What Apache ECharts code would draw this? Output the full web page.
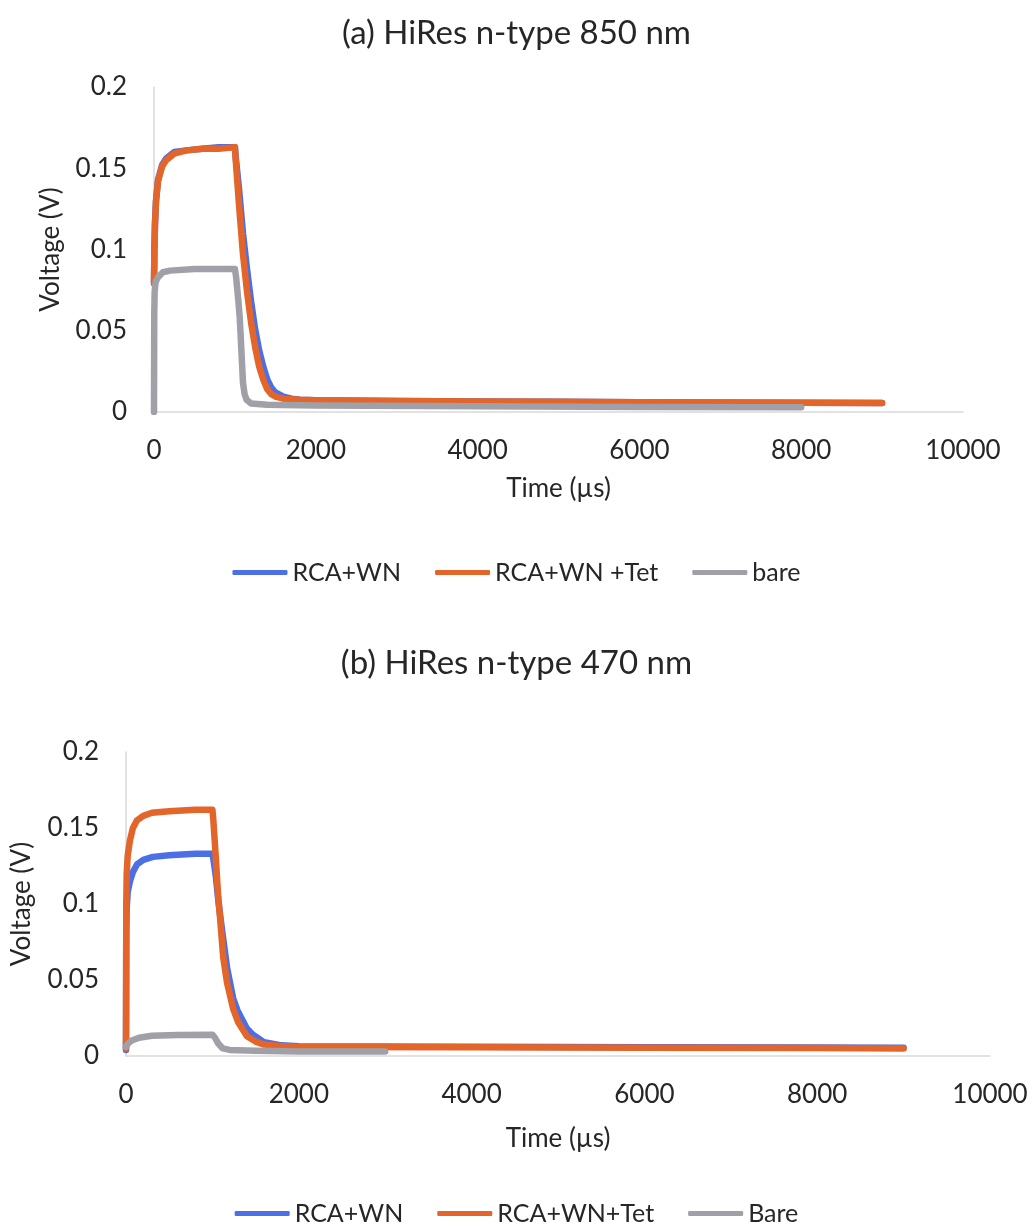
<!DOCTYPE html>
<html>
<head>
<meta charset="utf-8">
<title>HiRes n-type transient response</title>
<script src="https://cdn.jsdelivr.net/npm/echarts@6/dist/echarts.min.js"></script>
<style>
  html, body { margin: 0; padding: 0; background: #fff; }
  #chart { width: 1033px; height: 1228px; }
</style>
</head>
<body>
<div id="chart"></div>
<script>
// Panel titles and legend names
const titleA = '(a) HiRes n-type 850 nm';
const titleB = '(b) HiRes n-type 470 nm';
const namesA = ['RCA+WN', 'RCA+WN +Tet', 'bare'];
const namesB = ['RCA+WN', 'RCA+WN+Tet', 'Bare'];

// Axis ticks
const xTicks = [0, 2000, 4000, 6000, 8000, 10000];
const yTicks = [0, 0.05, 0.1, 0.15, 0.2];

// (a) 850 nm: [time µs, voltage V]
const aRcaWn = [
  [0, 0.080], [5, 0.100], [12, 0.116], [25, 0.130], [50, 0.143], [100, 0.152],
  [150, 0.156], [250, 0.160], [400, 0.161], [600, 0.162], [800, 0.163], [1000, 0.163],
  [1010, 0.157], [1050, 0.138], [1100, 0.110], [1150, 0.088], [1200, 0.068],
  [1250, 0.051], [1300, 0.038], [1350, 0.028], [1400, 0.020], [1450, 0.015],
  [1500, 0.012], [1600, 0.0095], [1700, 0.0082], [1800, 0.0076], [2000, 0.0072],
  [3000, 0.0068], [4000, 0.0065], [5000, 0.0063], [6000, 0.0060], [7000, 0.0059],
  [8000, 0.0057], [9000, 0.0056]
];
const aRcaWnTet = [
  [0, 0.079], [5, 0.100], [12, 0.115], [25, 0.130], [50, 0.142], [100, 0.151],
  [150, 0.155], [250, 0.159], [400, 0.161], [600, 0.162], [800, 0.162], [1000, 0.163],
  [1010, 0.155], [1050, 0.128], [1100, 0.097], [1150, 0.074], [1200, 0.055],
  [1250, 0.040], [1300, 0.028], [1350, 0.020], [1400, 0.014], [1450, 0.011],
  [1500, 0.0095], [1600, 0.0082], [1800, 0.0075], [2000, 0.0072], [3000, 0.0068],
  [4000, 0.0065], [5000, 0.0063], [6000, 0.0060], [7000, 0.0059], [8000, 0.0057],
  [9000, 0.0056]
];
const aBare = [
  [0, 0.000], [3, 0.060], [8, 0.074], [20, 0.080], [50, 0.083], [110, 0.086],
  [200, 0.087], [500, 0.088], [1000, 0.088], [1015, 0.083], [1040, 0.070],
  [1060, 0.058], [1080, 0.038], [1100, 0.018], [1120, 0.011], [1145, 0.0075],
  [1200, 0.0052], [1400, 0.0045], [2000, 0.0040], [4000, 0.0035], [6000, 0.0031],
  [8000, 0.0030]
];

// (b) 470 nm: [time µs, voltage V]
const bRcaWn = [
  [0, 0.004], [3, 0.080], [8, 0.097], [20, 0.108], [46, 0.115], [80, 0.121],
  [127, 0.126], [200, 0.129], [312, 0.131], [500, 0.132], [800, 0.133], [1000, 0.133],
  [1010, 0.130], [1040, 0.118], [1067, 0.103], [1100, 0.088], [1170, 0.058],
  [1240, 0.038], [1290, 0.030], [1400, 0.018], [1470, 0.014], [1600, 0.0090],
  [1800, 0.0070], [2000, 0.0064], [4000, 0.0061], [6000, 0.0058], [8000, 0.0056],
  [9000, 0.0055]
];
const bRcaWnTet = [
  [0, 0.005], [3, 0.100], [8, 0.120], [20, 0.132], [46, 0.142], [80, 0.150],
  [127, 0.155], [200, 0.158], [300, 0.160], [500, 0.161], [800, 0.162], [1000, 0.162],
  [1010, 0.156], [1040, 0.130], [1067, 0.105], [1090, 0.090], [1125, 0.065],
  [1170, 0.048], [1240, 0.031], [1300, 0.022], [1400, 0.013], [1500, 0.0095],
  [1600, 0.0075], [1800, 0.0065], [2000, 0.0060], [4000, 0.0058], [6000, 0.0055],
  [8000, 0.0052], [9000, 0.0050]
];
const bBare = [
  [0, 0.006], [20, 0.008], [60, 0.010], [150, 0.012], [300, 0.0133], [600, 0.0138],
  [1000, 0.0140], [1030, 0.012], [1070, 0.008], [1120, 0.005], [1200, 0.0040],
  [1500, 0.0035], [2000, 0.0030], [2500, 0.0030], [3000, 0.0030]
];

const BLUE = '#4d6fe6';
const ORANGE = '#e4652a';
const GRAY = '#a0a0a8';
const FONT = 'Lato, "Open Sans", sans-serif';
const TEXT = '#262626';

function xAxisFor(gridIndex, nameGap) {
  return {
    type: 'value', gridIndex: gridIndex,
    min: xTicks[0], max: xTicks[xTicks.length - 1], interval: xTicks[1] - xTicks[0],
    name: 'Time (\u00b5s)', nameLocation: 'middle', nameGap: nameGap,
    nameTextStyle: { fontFamily: FONT, fontSize: 26, color: TEXT },
    axisLine: { show: true, lineStyle: { color: '#d9d9d9', width: 1.5 } },
    axisTick: { show: false },
    splitLine: { show: false },
    axisLabel: { fontFamily: FONT, fontSize: 26, color: TEXT, margin: 26,
      formatter: v => String(v) }
  };
}
function yAxisFor(gridIndex, nameGap) {
  return {
    type: 'value', gridIndex: gridIndex,
    min: yTicks[0], max: yTicks[yTicks.length - 1], interval: yTicks[1] - yTicks[0],
    name: 'Voltage (V)', nameLocation: 'middle', nameGap: nameGap, nameRotate: 90,
    nameTextStyle: { fontFamily: FONT, fontSize: 26, color: TEXT },
    axisLine: { show: true, lineStyle: { color: '#d9d9d9', width: 1.5 } },
    axisTick: { show: false },
    splitLine: { show: false },
    axisLabel: { fontFamily: FONT, fontSize: 26, color: TEXT, margin: 27,
      formatter: v => String(+v.toFixed(3)) }
  };
}
function trace(name, data, color, idx, z) {
  return {
    type: 'line', name: name, data: data,
    xAxisIndex: idx, yAxisIndex: idx,
    showSymbol: false, smooth: false,
    lineStyle: { color: color, width: 6.5, cap: 'round', join: 'round' },
    itemStyle: { color: color },
    z: z, animation: false
  };
}

const chart = echarts.init(document.getElementById('chart'), null, { renderer: 'canvas' });
chart.setOption({
  backgroundColor: '#ffffff',
  animation: false,
  title: [
    { text: titleA, left: 'center', top: 12,
      textStyle: { fontFamily: FONT, fontSize: 33, fontWeight: 'normal', color: TEXT } },
    { text: titleB, left: 'center', top: 642,
      textStyle: { fontFamily: FONT, fontSize: 33, fontWeight: 'normal', color: TEXT } }
  ],
  legend: [
    { data: namesA, top: 555, left: 'center', icon: 'roundRect',
      itemWidth: 55, itemHeight: 5, itemGap: 34,
      textStyle: { fontFamily: FONT, fontSize: 25, color: TEXT } },
    { data: namesB, top: 1196, left: 'center', icon: 'roundRect',
      itemWidth: 55, itemHeight: 5, itemGap: 34,
      textStyle: { fontFamily: FONT, fontSize: 25, color: TEXT } }
  ],
  grid: [
    { left: 154, width: 809, top: 87, height: 325 },
    { left: 126, width: 864, top: 752, height: 304 }
  ],
  xAxis: [xAxisFor(0, 64), xAxisFor(1, 70)],
  yAxis: [yAxisFor(0, 90), yAxisFor(1, 91)],
  series: [
    trace(namesA[0], aRcaWn, BLUE, 0, 2),
    trace(namesA[1], aRcaWnTet, ORANGE, 0, 3),
    trace(namesA[2], aBare, GRAY, 0, 4),
    trace(namesB[0], bRcaWn, BLUE, 1, 2),
    trace(namesB[1], bRcaWnTet, ORANGE, 1, 3),
    trace(namesB[2], bBare, GRAY, 1, 4)
  ]
});
</script>
</body>
</html>
